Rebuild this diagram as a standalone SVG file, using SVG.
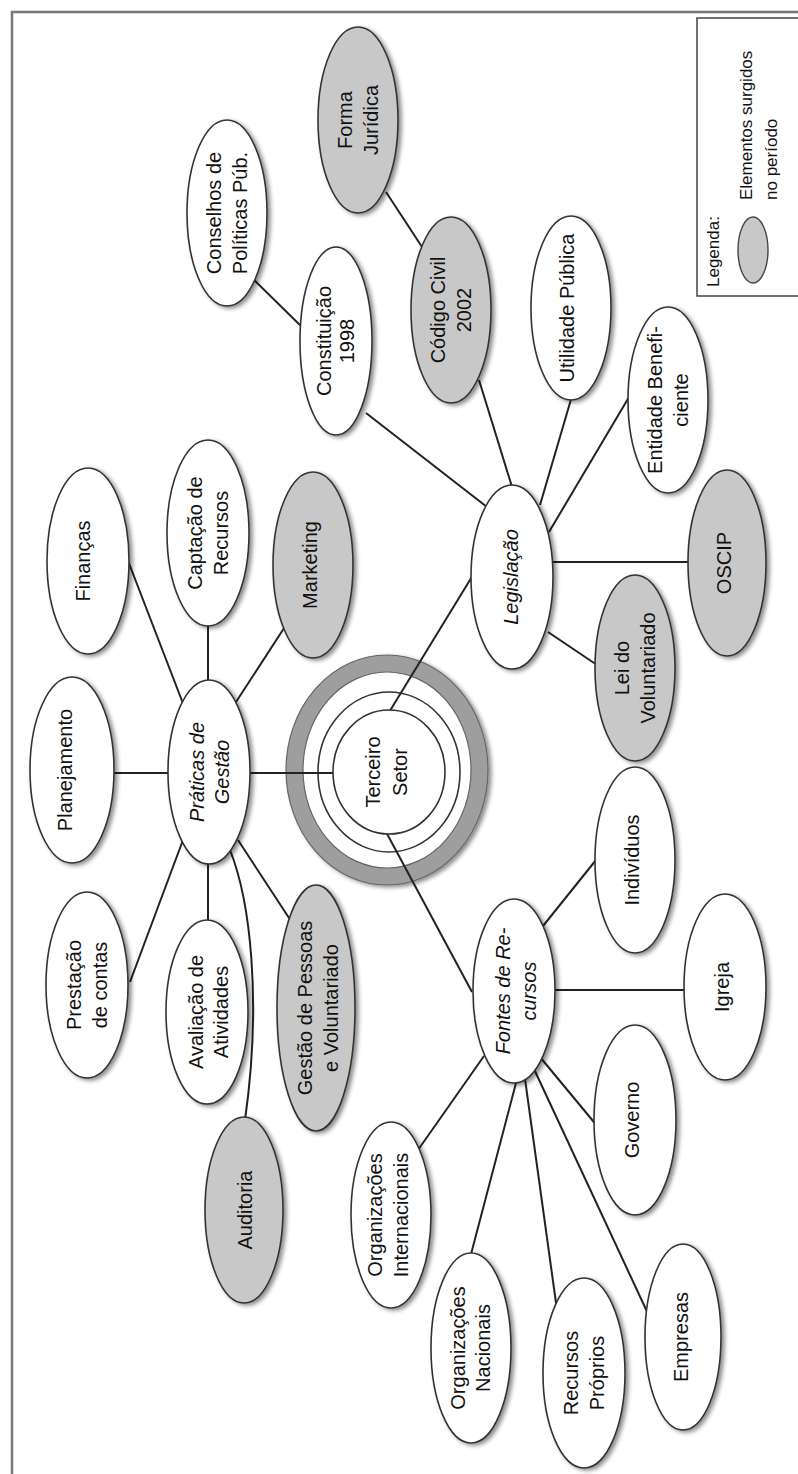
<svg xmlns="http://www.w3.org/2000/svg" width="798" height="1474" viewBox="0 0 798 1474">
<style>
  .n { stroke: #333; stroke-width: 1.6; filter: url(#sh); }
  .w { fill: #ffffff; }
  .g { fill: #c8c8c8; }
  .t { font-family: "Liberation Sans", Arial, sans-serif; font-size: 20px; fill: #111; text-anchor: middle; }
  .i { font-style: italic; }
  .c line, .c path { stroke: #222; stroke-width: 2; fill: none; }
  .lg { font-family: "Liberation Sans", Arial, sans-serif; font-size: 17px; fill: #111; }
</style>
<defs>
  <filter id="sh" x="-30%" y="-20%" width="160%" height="140%">
    <feDropShadow dx="3" dy="2" stdDeviation="2" flood-color="#000" flood-opacity="0.45"/>
  </filter>
</defs>
<rect x="0" y="0" width="798" height="1474" fill="#ffffff"/>
<rect id="frame" x="12" y="12" width="800" height="1480" fill="none" stroke="#777" stroke-width="2.5"/>

<g id="legend">
  <rect x="697" y="18" width="110" height="278" fill="#fff" stroke="#444" stroke-width="1.5"/>
  <text class="lg" transform="translate(719 287) rotate(-90)">Legenda:</text>
  <ellipse cx="753" cy="250" rx="15" ry="33" class="g" stroke="#444" stroke-width="1.4"/>
  <text class="lg" transform="translate(752 200) rotate(-90)">Elementos surgidos</text>
  <text class="lg" transform="translate(777 200) rotate(-90)">no período</text>
</g>

<g id="terceiro-setor-rings">
  <ellipse cx="387" cy="770" rx="101" ry="115" fill="#9e9e9e" stroke="#666" stroke-width="1.2" filter="url(#sh)"/>
  <ellipse cx="387" cy="770" rx="84" ry="98" fill="#ffffff" stroke="#666" stroke-width="1.2"/>
  <ellipse cx="389" cy="772" rx="71" ry="80" fill="none" stroke="#333" stroke-width="1.6"/>
</g>

<g id="connectors" class="c">
  <line x1="250" y1="276" x2="305" y2="330"/>
  <line x1="366" y1="413" x2="487" y2="507"/>
  <line x1="386" y1="192" x2="424" y2="250"/>
  <line x1="479" y1="380" x2="513" y2="490"/>
  <line x1="572" y1="396" x2="540" y2="505"/>
  <line x1="632" y1="392" x2="549" y2="532"/>
  <line x1="550" y1="562" x2="690" y2="562"/>
  <line x1="548" y1="632" x2="600" y2="667"/>
  <line x1="473" y1="575" x2="388" y2="714"/>
  <line x1="385" y1="830" x2="472" y2="992"/>
  <line x1="543" y1="926" x2="600" y2="855"/>
  <line x1="553" y1="990" x2="687" y2="990"/>
  <line x1="540" y1="1057" x2="598" y2="1127"/>
  <line x1="534" y1="1069" x2="650" y2="1318"/>
  <line x1="525" y1="1079" x2="557" y2="1310"/>
  <line x1="516" y1="1083" x2="470" y2="1258"/>
  <line x1="484" y1="1056" x2="418" y2="1150"/>
  <line x1="247" y1="773" x2="336" y2="773"/>
  <line x1="110" y1="773" x2="172" y2="773"/>
  <line x1="125" y1="553" x2="184" y2="706"/>
  <line x1="208" y1="620" x2="208" y2="685"/>
  <line x1="288" y1="622" x2="236" y2="702"/>
  <line x1="130" y1="982" x2="183" y2="840"/>
  <line x1="208" y1="860" x2="208" y2="925"/>
  <line x1="238" y1="840" x2="291" y2="921"/>
  <path d="M 230 850 C 250 900, 262 1000, 245 1120"/>
</g>

<g id="forma-juridica"><ellipse class="n g" cx="358" cy="120" rx="40" ry="93"/>
  <g transform="translate(358 120) rotate(-90)"><text class="t" y="-6">Forma</text><text class="t" y="20">Jurídica</text></g></g>
<g id="conselhos"><ellipse class="n w" cx="227" cy="213" rx="40" ry="93"/>
  <g transform="translate(227 213) rotate(-90)"><text class="t" y="-6">Conselhos de</text><text class="t" y="20">Políticas Púb.</text></g></g>
<g id="constituicao"><ellipse class="n w" cx="336" cy="341" rx="36" ry="94"/>
  <g transform="translate(336 341) rotate(-90)"><text class="t" y="-5">Constituição</text><text class="t" y="18">1998</text></g></g>
<g id="codigo-civil"><ellipse class="n g" cx="451" cy="310" rx="40" ry="93"/>
  <g transform="translate(451 310) rotate(-90)"><text class="t" y="-6">Código Civil</text><text class="t" y="20">2002</text></g></g>
<g id="utilidade-publica"><ellipse class="n w" cx="571" cy="308" rx="40" ry="92"/>
  <g transform="translate(571 308) rotate(-90)"><text class="t" y="3">Utilidade Pública</text></g></g>
<g id="entidade-beneficiente"><ellipse class="n w" cx="668" cy="400" rx="40" ry="93"/>
  <g transform="translate(668 400) rotate(-90)"><text class="t" y="-6">Entidade Benefi-</text><text class="t" y="20">ciente</text></g></g>
<g id="legislacao"><ellipse class="n w" cx="512" cy="577" rx="41" ry="92"/>
  <g transform="translate(512 577) rotate(-90)"><text class="t i" y="6">Legislação</text></g></g>
<g id="oscip"><ellipse class="n g" cx="727" cy="563" rx="39" ry="93"/>
  <g transform="translate(727 563) rotate(-90)"><text class="t" y="4">OSCIP</text></g></g>
<g id="lei-voluntariado"><ellipse class="n g" cx="635" cy="668" rx="40" ry="93"/>
  <g transform="translate(635 668) rotate(-90)"><text class="t" y="-6">Lei do</text><text class="t" y="20">Voluntariado</text></g></g>
<g id="individuos"><ellipse class="n w" cx="635" cy="860" rx="40" ry="93"/>
  <g transform="translate(635 860) rotate(-90)"><text class="t" y="4">Indivíduos</text></g></g>
<g id="fontes-recursos"><ellipse class="n w" cx="514" cy="991" rx="41" ry="92"/>
  <g transform="translate(514 991) rotate(-90)"><text class="t i" y="-4">Fontes de Re-</text><text class="t i" y="22">cursos</text></g></g>
<g id="igreja"><ellipse class="n w" cx="725" cy="987" rx="41" ry="93"/>
  <g transform="translate(725 987) rotate(-90)"><text class="t" y="4">Igreja</text></g></g>
<g id="governo"><ellipse class="n w" cx="635" cy="1120" rx="41" ry="95"/>
  <g transform="translate(635 1120) rotate(-90)"><text class="t" y="4">Governo</text></g></g>
<g id="empresas"><ellipse class="n w" cx="683" cy="1337" rx="38" ry="93"/>
  <g transform="translate(683 1337) rotate(-90)"><text class="t" y="5">Empresas</text></g></g>
<g id="recursos-proprios"><ellipse class="n w" cx="584" cy="1373" rx="41" ry="95"/>
  <g transform="translate(584 1373) rotate(-90)"><text class="t" y="-6">Recursos</text><text class="t" y="20">Próprios</text></g></g>
<g id="org-nacionais"><ellipse class="n w" cx="471" cy="1348" rx="40" ry="95"/>
  <g transform="translate(471 1348) rotate(-90)"><text class="t" y="-6">Organizações</text><text class="t" y="19">Nacionais</text></g></g>
<g id="org-internacionais"><ellipse class="n w" cx="391" cy="1215" rx="40" ry="93"/>
  <g transform="translate(391 1215) rotate(-90)"><text class="t" y="-9">Organizações</text><text class="t" y="17">Internacionais</text></g></g>
<g id="praticas-gestao"><ellipse class="n w" cx="209" cy="772" rx="41" ry="92"/>
  <g transform="translate(209 772) rotate(-90)"><text class="t i" y="-5">Práticas de</text><text class="t i" y="20">Gestão</text></g></g>
<g id="planejamento"><ellipse class="n w" cx="72" cy="770" rx="42" ry="93"/>
  <g transform="translate(72 770) rotate(-90)"><text class="t" y="0">Planejamento</text></g></g>
<g id="financas"><ellipse class="n w" cx="88" cy="561" rx="41" ry="93"/>
  <g transform="translate(88 561) rotate(-90)"><text class="t" y="2">Finanças</text></g></g>
<g id="captacao"><ellipse class="n w" cx="208" cy="533" rx="41" ry="93"/>
  <g transform="translate(208 533) rotate(-90)"><text class="t" y="-6">Captação de</text><text class="t" y="20">Recursos</text></g></g>
<g id="marketing"><ellipse class="n g" cx="313" cy="565" rx="40" ry="93"/>
  <g transform="translate(313 565) rotate(-90)"><text class="t" y="4">Marketing</text></g></g>
<g id="prestacao-contas"><ellipse class="n w" cx="87" cy="985" rx="41" ry="93"/>
  <g transform="translate(87 985) rotate(-90)"><text class="t" y="-6">Prestação</text><text class="t" y="20">de contas</text></g></g>
<g id="avaliacao"><ellipse class="n w" cx="207" cy="1012" rx="41" ry="92"/>
  <g transform="translate(207 1012) rotate(-90)"><text class="t" y="-4">Avaliação de</text><text class="t" y="21">Atividades</text></g></g>
<g id="gestao-pessoas"><ellipse class="n g" cx="316" cy="1008" rx="39" ry="123"/>
  <g transform="translate(316 1008) rotate(-90)"><text class="t" y="-4">Gestão de Pessoas</text><text class="t" y="22">e Voluntariado</text></g></g>
<g id="auditoria"><ellipse class="n g" cx="244" cy="1210" rx="39" ry="93"/>
  <g transform="translate(244 1210) rotate(-90)"><text class="t" y="8">Auditoria</text></g></g>
<g id="terceiro-setor"><ellipse cx="389" cy="772" rx="56" ry="62" fill="#fff" stroke="#333" stroke-width="1.6"/>
  <g transform="translate(389 772) rotate(-90)"><text class="t" y="-9">Terceiro</text><text class="t" y="18">Setor</text></g></g>
</svg>
